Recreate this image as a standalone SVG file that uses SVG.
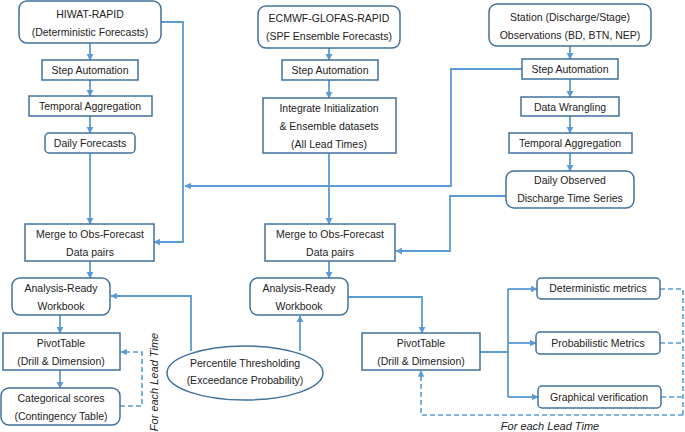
<svg xmlns="http://www.w3.org/2000/svg" width="685" height="432" viewBox="0 0 685 432">
<style>
.b{fill:#fff;stroke:#41719C;stroke-width:1.5}
text{font-family:"Liberation Sans",Arial,sans-serif;font-size:10.5px;fill:#222;text-anchor:middle}
.c{fill:none;stroke:#5B9BD5;stroke-width:1.8}
.d{fill:none;stroke:#5B9BD5;stroke-width:1.6;stroke-dasharray:5,3}
.i{font-style:italic;font-size:11px}
</style>
<defs><marker id="a" viewBox="0 0 10 10" refX="9" refY="5" markerWidth="4" markerHeight="4" orient="auto"><path d="M0,0L10,5L0,10z" fill="#5B9BD5"/></marker></defs>
<rect width="685" height="432" fill="#fff"/>
<g id="connectors">
<path class="c" marker-end="url(#a)" d="M90,43V60"/>
<path class="c" marker-end="url(#a)" d="M90,80V96"/>
<path class="c" marker-end="url(#a)" d="M90,116V133"/>
<path class="c" marker-end="url(#a)" d="M90,153V224"/>
<path class="c" marker-end="url(#a)" d="M161,22H183V242H154"/>
<path class="c" marker-end="url(#a)" d="M329,48V60"/>
<path class="c" marker-end="url(#a)" d="M329,80V98"/>
<path class="c" marker-end="url(#a)" d="M329,153V224"/>
<path class="c" marker-end="url(#a)" d="M570,46V59"/>
<path class="c" marker-end="url(#a)" d="M570,79V97"/>
<path class="c" marker-end="url(#a)" d="M570,116V133"/>
<path class="c" marker-end="url(#a)" d="M570,153V171"/>
<path class="c" marker-end="url(#a)" d="M522,69H451V186H185"/>
<path class="c" marker-end="url(#a)" d="M506,196H450V251H396"/>
<path class="c" marker-end="url(#a)" d="M90,261V278"/>
<path class="c" marker-end="url(#a)" d="M329,261V278"/>
<path class="c" marker-end="url(#a)" d="M60,315V333"/>
<path class="c" marker-end="url(#a)" d="M60,370V388"/>
<path class="d" marker-end="url(#a)" d="M120,406H142V352H121"/>
<path class="c" marker-end="url(#a)" d="M191,351V296H111"/>
<path class="c" marker-end="url(#a)" d="M300,351V316"/>
<path class="c" marker-end="url(#a)" d="M348,297H422V333"/>
<path class="c" d="M480,352H508M508,289V397"/>
<path class="c" marker-end="url(#a)" d="M508,289H537"/>
<path class="c" marker-end="url(#a)" d="M508,343H536"/>
<path class="c" marker-end="url(#a)" d="M508,397H538"/>
<path class="d" d="M660,289H683V415M660,343H682M661,397H682"/>
<path class="d" marker-end="url(#a)" d="M683,415H421V371"/>
</g>
<g id="hiwat"><rect class="b" x="19" y="1" width="142" height="42" rx="8"/><text x="90" y="18">HIWAT-RAPID</text><text x="90" y="36">(Deterministic Forecasts)</text></g>
<g id="ecmwf"><rect class="b" x="258" y="6" width="142" height="42" rx="8"/><text x="329" y="22">ECMWF-GLOFAS-RAPID</text><text x="329" y="40">(SPF Ensemble Forecasts)</text></g>
<g id="station"><rect class="b" x="489" y="4" width="162" height="42" rx="8"/><text x="570" y="21">Station (Discharge/Stage)</text><text x="570" y="39">Observations (BD, BTN, NEP)</text></g>
<g id="step1"><rect class="b" x="42" y="60" width="96" height="20"/><text x="90" y="74">Step Automation</text></g>
<g id="temp1"><rect class="b" x="29" y="96" width="123" height="20"/><text x="90" y="110">Temporal Aggregation</text></g>
<g id="daily1"><rect class="b" x="45" y="133" width="90" height="20" rx="4"/><text x="90" y="147">Daily Forecasts</text></g>
<g id="step2"><rect class="b" x="282" y="60" width="96" height="20"/><text x="330" y="74">Step Automation</text></g>
<g id="integrate"><rect class="b" x="263" y="98" width="133" height="55"/><text x="329" y="112">Integrate Initialization</text><text x="329" y="130">&amp; Ensemble datasets</text><text x="329" y="148">(All Lead Times)</text></g>
<g id="step3"><rect class="b" x="522" y="59" width="96" height="20"/><text x="570" y="73">Step Automation</text></g>
<g id="wrangle"><rect class="b" x="521" y="97" width="98" height="19"/><text x="570" y="111">Data Wrangling</text></g>
<g id="temp3"><rect class="b" x="509" y="133" width="123" height="20"/><text x="570" y="147">Temporal Aggregation</text></g>
<g id="dailyobs"><rect class="b" x="506" y="171" width="128" height="37" rx="8"/><text x="570" y="184">Daily Observed</text><text x="570" y="202">Discharge Time Series</text></g>
<g id="merge1"><rect class="b" x="25" y="224" width="129" height="37"/><text x="90" y="238">Merge to Obs-Forecast</text><text x="90" y="256">Data pairs</text></g>
<g id="merge2"><rect class="b" x="265" y="224" width="130" height="37"/><text x="330" y="238">Merge to Obs-Forecast</text><text x="330" y="256">Data pairs</text></g>
<g id="ar1"><rect class="b" x="12" y="278" width="98" height="37" rx="8"/><text x="61" y="292">Analysis-Ready</text><text x="61" y="310">Workbook</text></g>
<g id="ar2"><rect class="b" x="250" y="278" width="98" height="37" rx="8"/><text x="299" y="292">Analysis-Ready</text><text x="299" y="310">Workbook</text></g>
<g id="pivot1"><rect class="b" x="3" y="333" width="117" height="37"/><text x="61" y="347">PivotTable</text><text x="61" y="365">(Drill &amp; Dimension)</text></g>
<g id="cat"><rect class="b" x="1" y="388" width="119" height="37" rx="8"/><text x="61" y="402">Categorical scores</text><text x="61" y="420">(Contingency Table)</text></g>
<g id="pct"><ellipse class="b" cx="245" cy="373" rx="78" ry="27"/><text x="245" y="367">Percentile Thresholding</text><text x="245" y="384">(Exceedance Probability)</text></g>
<g id="pivot2"><rect class="b" x="362" y="333" width="118" height="37"/><text x="421" y="347">PivotTable</text><text x="421" y="365">(Drill &amp; Dimension)</text></g>
<g id="det"><rect class="b" x="537" y="278" width="123" height="21" rx="4"/><text x="598" y="292">Deterministic metrics</text></g>
<g id="prob"><rect class="b" x="536" y="332" width="124" height="22" rx="4"/><text x="598" y="347">Probabilistic Metrics</text></g>
<g id="graph"><rect class="b" x="538" y="386" width="123" height="22" rx="4"/><text x="599" y="401">Graphical verification</text></g>
<text class="i" transform="translate(158,382) rotate(-90)">For each Lead Time</text>
<text class="i" x="550" y="430">For each Lead Time</text>
</svg>
